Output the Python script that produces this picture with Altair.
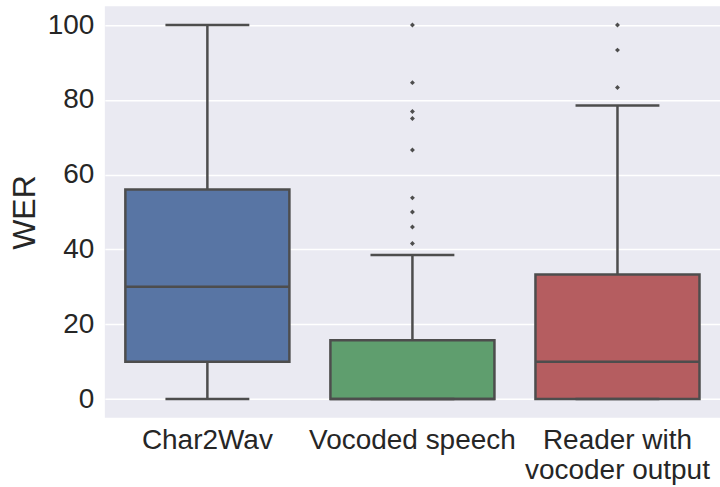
import altair as alt
import pandas as pd

# Summary statistics of the word error rate per condition (whisker ends, quartiles, median)
groups = ["Char2Wav", "Vocoded speech", "Reader with\nvocoder output"]
lower_whisker = [0, 0, 0]
q1 = [10, 0, 0]
median = [30, 0, 10]
q3 = [56, 15.7, 33.3]
upper_whisker = [100, 38.5, 78.5]
box_colors = ["#5875A4", "#5F9E6E", "#B55D60"]

# Points beyond the whiskers
outlier_groups = ["Vocoded speech"] * 9 + ["Reader with\nvocoder output"] * 3
outlier_values = [100, 84.6, 76.9, 75.0, 66.6, 53.8, 50.0, 46.0, 41.6,
                  100, 93.3, 83.3]

stats = pd.DataFrame({
    "group": groups,
    "low": lower_whisker,
    "q1": q1,
    "median": median,
    "q3": q3,
    "high": upper_whisker,
})
outliers = pd.DataFrame({"group": outlier_groups, "WER": outlier_values})

EDGE = "#4d4d4d"
FONT = "Liberation Sans"

x_enc = alt.X(
    "group:N",
    sort=groups,
    scale=alt.Scale(paddingInner=0, paddingOuter=0),
    axis=alt.Axis(
        title=None,
        labelExpr="split(datum.label, '\\n')",
        labelAngle=0,
        labelFontSize=28,
        labelLineHeight=30,
        labelPadding=9,
        labelLimit=400,
        ticks=False,
        domain=False,
        grid=False,
    ),
)
y_scale = alt.Scale(domain=[-5, 105], nice=False, zero=False)
y_axis = alt.Axis(
    title="WER",
    values=[0, 20, 40, 60, 80, 100],
    labelFontSize=28,
    labelPadding=11,
    titleFontSize=32,
    titleFontWeight="normal",
    titlePadding=6,
    ticks=False,
    domain=False,
    grid=True,
    gridColor="white",
    gridWidth=1.5,
)

base = alt.Chart(stats).encode(x=x_enc)

lower_line = base.mark_rule(color=EDGE, strokeWidth=2.5).encode(
    y=alt.Y("low:Q", scale=y_scale, axis=y_axis), y2="q1:Q"
)
upper_line = base.mark_rule(color=EDGE, strokeWidth=2.5).encode(
    y=alt.Y("q3:Q", scale=y_scale), y2="high:Q"
)
boxes = base.mark_bar(
    width=alt.RelativeBandSize(0.8), stroke=EDGE, strokeWidth=2.5
).encode(
    y=alt.Y("q1:Q", scale=y_scale),
    y2="q3:Q",
    color=alt.Color(
        "group:N", sort=groups,
        scale=alt.Scale(domain=groups, range=box_colors), legend=None
    ),
)
medians = base.mark_tick(size=165, thickness=2.5, color=EDGE, opacity=1).encode(
    y=alt.Y("median:Q", scale=y_scale)
)
low_caps = base.mark_tick(size=84, thickness=2.5, color=EDGE, opacity=1).encode(
    y=alt.Y("low:Q", scale=y_scale)
)
high_caps = base.mark_tick(size=84, thickness=2.5, color=EDGE, opacity=1).encode(
    y=alt.Y("high:Q", scale=y_scale)
)
points = alt.Chart(outliers).mark_point(
    shape="diamond", filled=True, size=24, color=EDGE, opacity=1
).encode(x=alt.X("group:N", sort=groups), y=alt.Y("WER:Q", scale=y_scale))

chart = (
    alt.layer(lower_line, upper_line, boxes, medians, low_caps, high_caps, points)
    .properties(
        width=616,
        height=412,
        autosize=alt.AutoSizeParams(type="none"),
        padding={"left": 105, "top": 6, "right": 0, "bottom": 69},
        background="white",
    )
    .configure_view(fill="#EAEAF2", stroke=None)
    .configure_axis(labelFont=FONT, titleFont=FONT, labelColor="#262626", titleColor="#262626")
)

chart.save("out.html", embed_options={"renderer": "svg", "actions": False})
